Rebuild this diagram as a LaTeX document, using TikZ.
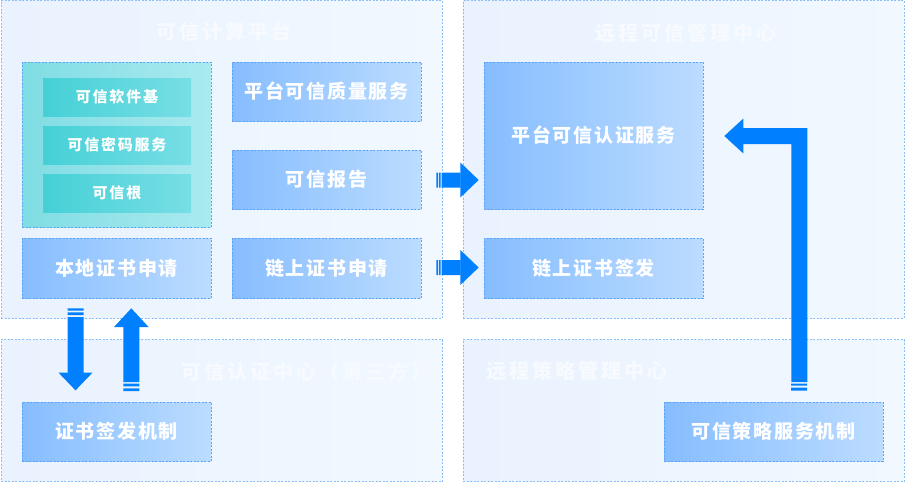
\documentclass[tikz,border=0pt]{standalone}
\usepackage{fontspec}
\setmainfont{Noto Sans CJK SC}
\newfontfamily\boxfont{Noto Sans CJK SC}[LetterSpace=9]
\newfontfamily\titlefont{Noto Sans CJK SC}[LetterSpace=15]
\newfontfamily\smallfont{Noto Sans CJK SC}[LetterSpace=12]
\usetikzlibrary{calc}
\definecolor{panelL}{HTML}{E9F2FE}
\definecolor{panelR}{HTML}{F1F8FF}
\definecolor{panelB}{HTML}{8CC0F5}
\definecolor{boxL}{HTML}{86BDFF}
\definecolor{boxR}{HTML}{BCDCFF}
\definecolor{boxB}{HTML}{5EA4F5}
\definecolor{tealL}{HTML}{7FDDE3}
\definecolor{tealR}{HTML}{AAEAF0}
\definecolor{innL}{HTML}{45D0D6}
\definecolor{innR}{HTML}{78DEE5}
\definecolor{arrc}{HTML}{0080FF}
\definecolor{titc}{HTML}{F7FBFF}
\newcommand\rightblock{%
  \fill[arrc] (0,-7.5) rectangle (1.7,7.5) (2.7,-7.5) rectangle (4.3,7.5) (5.3,-7.5) rectangle (24.2,7.5);
  \fill[arrc] (24,-17.5) -- (42.3,0) -- (24,17.5) -- cycle;}
\begin{document}
\begin{tikzpicture}[x=1pt,y=-1pt,
  panel/.style={draw=panelB, line width=0.7pt, dash pattern=on 2pt off 1.5pt, left color=panelL, right color=panelR, inner sep=0pt},
  ptitle/.style={text=titc, font=\titlefont\bfseries\fontsize{20}{24}\selectfont, inner sep=0pt},
  bluebox/.style={draw=boxB, line width=0.7pt, dash pattern=on 2pt off 1.5pt, left color=boxL, right color=boxR, text=white, font=\boxfont\bfseries\fontsize{19}{23}\selectfont, inner sep=0pt},
  tealbox/.style={draw=boxB, line width=0.7pt, dash pattern=on 2pt off 1.5pt, left color=tealL, right color=tealR, inner sep=0pt},
  innbox/.style={left color=innL, right color=innR, text=white, font=\smallfont\bfseries\fontsize{15}{18}\selectfont, inner sep=0pt, minimum width=148, minimum height=38}
]
\useasboundingbox (0,0) rectangle (905,482);
\fill[white] (0,0) rectangle (905,482);
% panels
\node[panel, minimum width=441, minimum height=317.5] (P1) at (221.5,159.25) {};
\node[panel, minimum width=441, minimum height=317.5] (P2) at (683.5,159.25) {};
\node[panel, minimum width=441, minimum height=142] (P3) at (221.5,410.5) {};
\node[panel, minimum width=441, minimum height=142] (P4) at (683.5,410.5) {};
\node[ptitle] (T1) at (223.5,32) {可信计算平台};
\node[ptitle] (T2) at (685.5,32.5) {远程可信管理中心};
\node[ptitle] (T3) at (306.5,372) {可信认证中心（第三方）};
\node[ptitle] (T4) at (576.5,371) {远程策略管理中心};
% teal group
\node[tealbox, minimum width=189, minimum height=165] (tc) at (116.5,144.5) {};
\node[innbox] (t1) at (117,97) {可信软件基};
\node[innbox] (t2) at (117,145) {可信密码服务};
\node[innbox] (t3) at (117,193) {可信根};
% blue boxes
\node[bluebox, minimum width=189, minimum height=59] (q) at (326.5,91.5) {平台可信质量服务};
\node[bluebox, minimum width=189, minimum height=59] (bao) at (326.5,179.5) {可信报告};
\node[bluebox, minimum width=189, minimum height=60] (loc) at (116.5,268) {本地证书申请};
\node[bluebox, minimum width=189, minimum height=60] (chain) at (326.5,268) {链上证书申请};
\node[bluebox, minimum width=219, minimum height=147] (auth) at (593.5,135.5) {平台可信认证服务};
\node[bluebox, minimum width=219, minimum height=60] (sign) at (593.5,268) {链上证书签发};
\node[bluebox, minimum width=189, minimum height=59] (cert) at (116.5,431.5) {证书签发机制};
\node[bluebox, minimum width=219, minimum height=59] (pol) at (773.5,431.5) {可信策略服务机制};
% right block arrows
\begin{scope}[shift={($(bao.east)+(15,0.5)$)}]\rightblock\end{scope}
\begin{scope}[shift={($(chain.east)+(15,-0.5)$)}]\rightblock\end{scope}
% down arrow (loc -> cert)
\begin{scope}[shift={($(loc.south)+(-41,10)$)}]
  \fill[arrc] (-8,0) rectangle (8,2.3) (-8,4) rectangle (8,6.7) (-8,8.7) rectangle (8,64.5);
  \fill[arrc] (-17,64.3) -- (0,82) -- (17,64.3) -- cycle;
\end{scope}
% up arrow (cert -> loc)
\begin{scope}[shift={($(loc.south)+(14.8,10)$)}]
  \fill[arrc] (-17.3,18.7) -- (0,0) -- (17.3,18.7) -- cycle;
  \fill[arrc] (-8,18.5) rectangle (8,73.7) (-8,75.3) rectangle (8,78) (-8,80) rectangle (8,82.7);
\end{scope}
% L arrow (pol -> auth)
\fill[arrc] ($(auth.east)+(21,0.5)$) -- ++(19,-17.5) -- ++(0,9.5) -- ++(64,0) -- ++(0,254) -- ++(-16,0) -- ++(0,-238) -- ++(-48,0) -- ++(0,9.5) -- cycle;
\fill[arrc] ($(pol.north)+(17.5,-18)$) rectangle ++(16,2) ($(pol.north)+(17.5,-14)$) rectangle ++(16,3);
\end{tikzpicture}
\end{document}
